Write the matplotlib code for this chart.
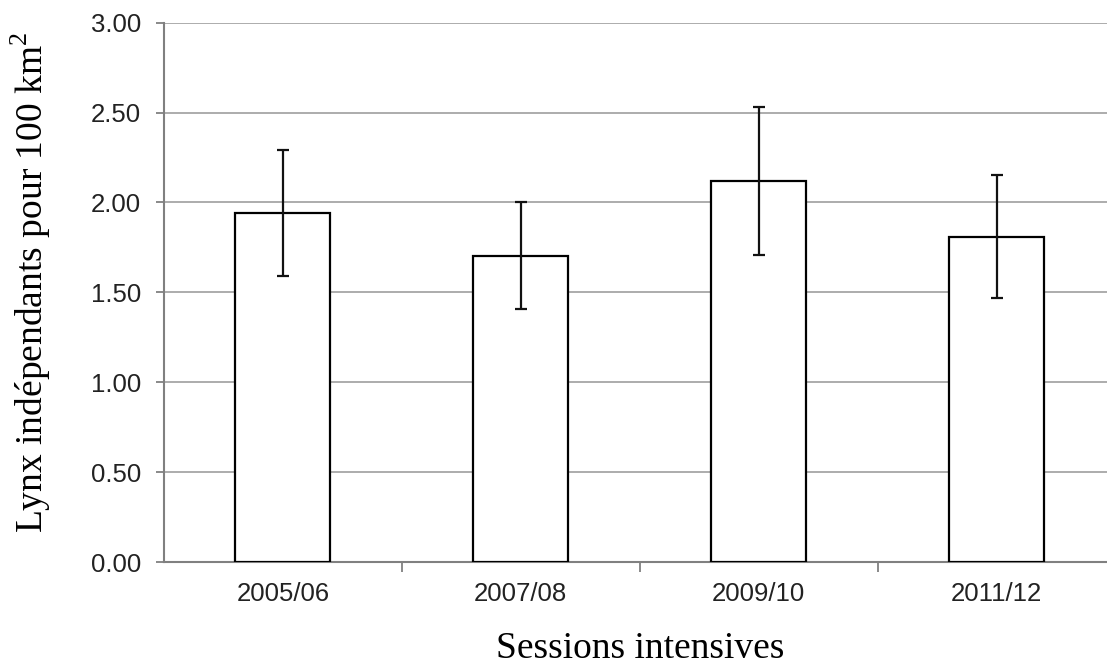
import matplotlib.pyplot as plt
import numpy as np

plt.rcParams['mathtext.fontset'] = 'custom'
plt.rcParams['mathtext.rm'] = 'Liberation Serif'

sessions = ['2005/06', '2007/08', '2009/10', '2011/12']
density = [1.94, 1.70, 2.12, 1.81]
ci_low = [1.59, 1.41, 1.71, 1.47]
ci_high = [2.29, 2.00, 2.53, 2.15]

fig = plt.figure(figsize=(11.07, 6.66), dpi=100)
# plot area runs past the right edge of the picture, as in the original crop
ax = fig.add_axes([0.148, 0.156, 0.86, 0.810])

x = np.arange(len(sessions))
dens = np.array(density)
yerr = [dens - np.array(ci_low), np.array(ci_high) - dens]

ax.bar(x, dens, width=0.40, color='white', edgecolor='black', linewidth=1.6, zorder=3)
ax.errorbar(x, dens, yerr=yerr, fmt='none', ecolor='#111111', elinewidth=1.6,
            capsize=4, capthick=1.6, zorder=4)

ax.set_xlim(-0.5, len(sessions) - 0.5)
ax.set_ylim(0, 3)
ticks = np.arange(0, 3.01, 0.5)
ax.set_yticks(ticks)
ax.set_yticklabels([f'{v:.2f}' for v in ticks])
ax.yaxis.grid(True, color='#a6a6a6', linewidth=1.3, zorder=0)
ax.set_axisbelow(True)

ax.set_xticks(x)
ax.set_xticklabels(sessions)
ax.set_xticks(np.arange(0.5, len(sessions) - 0.5), minor=True)
ax.tick_params(axis='x', which='major', length=0, pad=14)
ax.tick_params(axis='x', which='minor', length=7, color='#808080', width=1.3)
ax.tick_params(axis='y', length=6, color='#808080', width=1.3, pad=10.5)

for lbl in ax.get_xticklabels() + ax.get_yticklabels():
    lbl.set_family('Liberation Sans')
    lbl.set_fontsize(18.5)
    lbl.set_color('#222222')

for s in ['top', 'right']:
    ax.spines[s].set_visible(False)
for s in ['left', 'bottom']:
    ax.spines[s].set_color('#808080')
    ax.spines[s].set_linewidth(1.5)

ax.set_xlabel('Sessions intensives', family='Liberation Serif', fontsize=27)
ax.xaxis.label.set_va('baseline')
ax.xaxis.set_label_coords(0.5, -0.177)
ax.set_ylabel('Lynx indépendants pour 100 km$^2$', family='Liberation Serif', fontsize=27)
ax.yaxis.label.set_va('baseline')
ax.yaxis.set_label_coords(-0.127, 0.519)

fig.savefig('out.png', dpi=100)
